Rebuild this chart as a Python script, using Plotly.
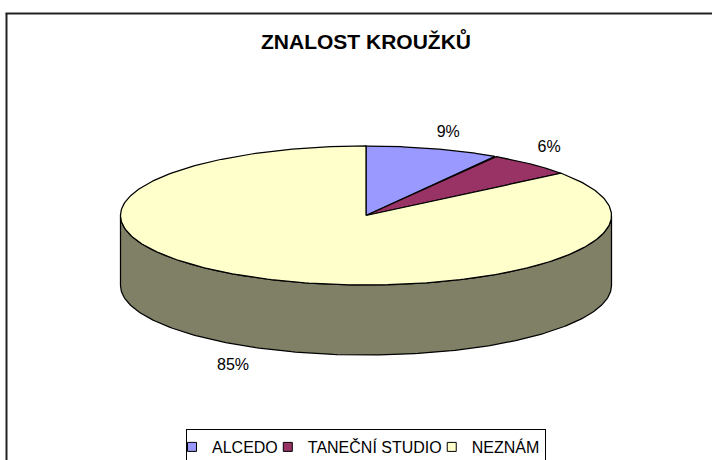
import numpy as np
import plotly.graph_objects as go

title = "ZNALOST KROUŽKŮ"
categories = ["ALCEDO", "TANEČNÍ STUDIO", "NEZNÁM"]
values = [8.8, 5.8, 85.4]
colors = ["#9999FF", "#993366", "#FFFFCC"]
side_color = "#808066"

W, H = 712, 460
CX, CY, RX, RY, DEPTH = 366, 215.5, 245.5, 69.5, 70
FONT = "Liberation Sans, Arial, sans-serif"

fractions = np.array(values) / sum(values)
edges = np.concatenate([[0], np.cumsum(fractions)]) * 2 * np.pi


def ex(t):
    return CX + RX * np.sin(t)


def ey(t, drop=0):
    return CY + RY * -np.cos(t) + drop


fig = go.Figure()

# side wall (front half)
t = np.linspace(np.pi / 2, 3 * np.pi / 2, 200)
sx = np.concatenate([ex(t), ex(t[::-1]), [ex(t[0])]])
sy = np.concatenate([ey(t, DEPTH), ey(t[::-1]), [ey(t[0], DEPTH)]])
fig.add_trace(go.Scatter(x=sx, y=sy, mode="lines", fill="toself", fillcolor=side_color,
                         line=dict(color="black", width=1.25), showlegend=False, hoverinfo="skip"))

# top face slices
for i, name in enumerate(categories):
    t = np.linspace(edges[i], edges[i + 1], 300)
    px = np.concatenate([[CX], ex(t), [CX]])
    py = np.concatenate([[CY], ey(t), [CY]])
    fig.add_trace(go.Scatter(x=px, y=py, mode="lines", fill="toself", fillcolor=colors[i],
                             line=dict(color="black", width=1.25), showlegend=False,
                             name=name, hoverinfo="name"))

# legend entries
for name, c in zip(categories, colors):
    fig.add_trace(go.Scatter(x=[None], y=[None], mode="markers", name=name,
                             marker=dict(symbol="square", size=9, color=c,
                                         line=dict(color="black", width=1))))

# percentage labels
mids = (edges[:-1] + edges[1:]) / 2
label_offsets = [(1.228, 1.256), (1.112, 1.338), (1.223, 1.268)]
lx, ly = [], []
for m, (fx, fy), in zip(mids, label_offsets):
    lx.append(CX + RX * fx * np.sin(m))
    ly.append(CY + 1.5 - RY * fy * np.cos(m) + (DEPTH if np.cos(m) < 0 else 0))
fig.add_trace(go.Scatter(x=lx, y=ly, mode="text", showlegend=False, hoverinfo="skip",
                         text=[f"{round(100 * f)}%" for f in fractions],
                         textfont=dict(family=FONT, size=16, color="black")))

fig.update_layout(
    width=W, height=H, margin=dict(l=0, r=0, t=0, b=0, autoexpand=False),
    paper_bgcolor="white", plot_bgcolor="white",
    xaxis=dict(range=[0, W], visible=False, fixedrange=True),
    yaxis=dict(range=[H, 0], visible=False, fixedrange=True),
    title=dict(text=f"<b>{title}</b>", x=366 / W, xanchor="center", y=1 - 42 / H, yanchor="middle",
               font=dict(family=FONT, size=21, color="black")),
    legend=dict(orientation="h", x=366 / W, xanchor="center", y=1 - 429 / H, yanchor="top",
                bgcolor="white", bordercolor="black", borderwidth=1,
                font=dict(family=FONT, size=16, color="black"),
                itemwidth=30, indentation=-15, tracegroupgap=0),
    shapes=[
        dict(type="line", xref="paper", yref="paper", x0=6.5 / W, x1=6.5 / W, y0=0, y1=1 - 13.5 / H,
             line=dict(color="#222222", width=2)),
        dict(type="line", xref="paper", yref="paper", x0=5.5 / W, x1=1, y0=1 - 13.5 / H, y1=1 - 13.5 / H,
             line=dict(color="#222222", width=2)),
    ],
)
fig.write_html("out.html", config={"displayModeBar": False},
               post_script="document.body.style.margin='0';")
